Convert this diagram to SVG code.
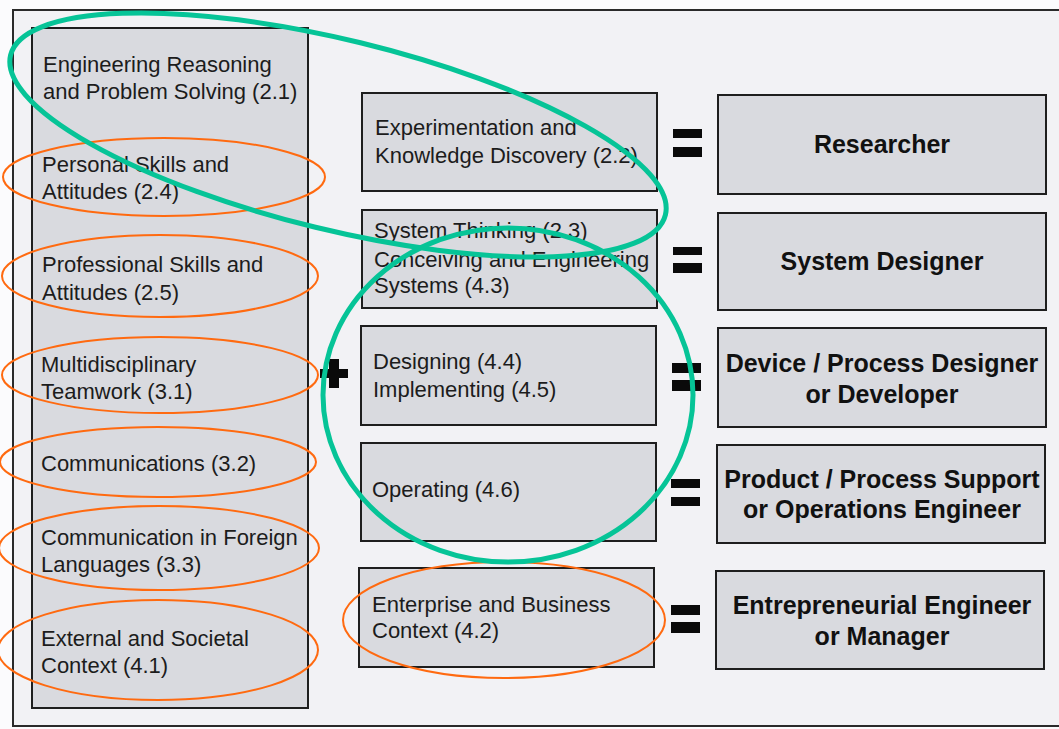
<svg xmlns="http://www.w3.org/2000/svg" width="1059" height="729" viewBox="0 0 1059 729">
<style>
.bg{fill:#fbfbfd}
.frame{fill:#f2f2f5;stroke:#2a2a2a;stroke-width:2}
.box{fill:#d9dadf;stroke:#1e1e1e;stroke-width:2}
.t{font-family:"Liberation Sans",Arial,sans-serif;font-size:22px;fill:#1c1c1c}
.b{font-family:"Liberation Sans",Arial,sans-serif;font-size:25px;font-weight:bold;fill:#111;text-anchor:middle}
.eq{fill:#0a0a0a}
.og{fill:none;stroke:#ff6a10;stroke-width:2}
.gr{fill:none;stroke:#06c497;stroke-width:5}
</style>
<rect class="bg" x="0" y="0" width="1059" height="729"/>
<rect class="frame" x="13" y="10" width="1060" height="716"/>

<g id="skills">
<rect class="box" x="32" y="28" width="276" height="680"/>
<text class="t" x="43" y="72">Engineering Reasoning</text>
<text class="t" x="43" y="99">and Problem Solving (2.1)</text>
<text class="t" x="42" y="172">Personal Skills and</text>
<text class="t" x="42" y="199">Attitudes (2.4)</text>
<text class="t" x="42" y="272">Professional Skills and</text>
<text class="t" x="42" y="300">Attitudes (2.5)</text>
<text class="t" x="41" y="372">Multidisciplinary</text>
<text class="t" x="41" y="399">Teamwork (3.1)</text>
<text class="t" x="41" y="471">Communications (3.2)</text>
<text class="t" x="41" y="545">Communication in Foreign</text>
<text class="t" x="41" y="572">Languages (3.3)</text>
<text class="t" x="41" y="646">External and Societal</text>
<text class="t" x="41" y="673">Context (4.1)</text>
</g>

<g id="experimentation">
<rect class="box" x="362" y="93" width="295" height="98"/>
<text class="t" x="375" y="135">Experimentation and</text>
<text class="t" x="375" y="163">Knowledge Discovery (2.2)</text>
</g>
<g id="system-thinking">
<rect class="box" x="362" y="210" width="295" height="98"/>
<text class="t" x="374" y="238">System Thinking (2.3)</text>
<text class="t" x="374" y="267">Conceiving and Engineering</text>
<text class="t" x="374" y="293">Systems (4.3)</text>
</g>
<g id="designing">
<rect class="box" x="361" y="326" width="295" height="99"/>
<text class="t" x="373" y="369">Designing (4.4)</text>
<text class="t" x="373" y="397">Implementing (4.5)</text>
</g>
<g id="operating">
<rect class="box" x="361" y="443" width="295" height="98"/>
<text class="t" x="372" y="497">Operating (4.6)</text>
</g>
<g id="enterprise">
<rect class="box" x="359" y="568" width="295" height="99"/>
<text class="t" x="372" y="612">Enterprise and Business</text>
<text class="t" x="372" y="638">Context (4.2)</text>
</g>

<g id="researcher">
<rect class="box" x="718" y="95" width="328" height="99"/>
<text class="b" x="882" y="153">Researcher</text>
</g>
<g id="system-designer">
<rect class="box" x="718" y="213" width="328" height="97"/>
<text class="b" x="882" y="270">System Designer</text>
</g>
<g id="device-designer">
<rect class="box" x="718" y="328" width="328" height="99"/>
<text class="b" x="882" y="372">Device / Process Designer</text>
<text class="b" x="882" y="403">or Developer</text>
</g>
<g id="support-engineer">
<rect class="box" x="717" y="445" width="328" height="98"/>
<text class="b" x="882" y="488">Product / Process Support</text>
<text class="b" x="882" y="518">or Operations Engineer</text>
</g>
<g id="entrepreneur">
<rect class="box" x="716" y="571" width="328" height="98"/>
<text class="b" x="882" y="614">Entrepreneurial Engineer</text>
<text class="b" x="882" y="645">or Manager</text>
</g>

<g id="operators">
<rect class="eq" x="673" y="129" width="29" height="9"/>
<rect class="eq" x="673" y="147" width="29" height="10"/>
<rect class="eq" x="673" y="247" width="29" height="8"/>
<rect class="eq" x="673" y="263" width="29" height="10"/>
<rect class="eq" x="672" y="363" width="29" height="10"/>
<rect class="eq" x="672" y="380" width="29" height="11"/>
<rect class="eq" x="671" y="479" width="29" height="9"/>
<rect class="eq" x="671" y="497" width="29" height="9"/>
<rect class="eq" x="671" y="605" width="29" height="10"/>
<rect class="eq" x="671" y="622" width="29" height="11"/>
<rect class="eq" x="320" y="369" width="28" height="9"/>
<rect class="eq" x="329" y="359" width="10" height="29"/>
</g>

<g id="annotations">
<ellipse class="og" cx="164" cy="177" rx="161" ry="39"/>
<ellipse class="og" cx="160" cy="276" rx="158" ry="41"/>
<ellipse class="og" cx="160" cy="375" rx="158" ry="38"/>
<ellipse class="og" cx="158" cy="462" rx="158" ry="35"/>
<ellipse class="og" cx="159" cy="548" rx="160" ry="42"/>
<ellipse class="og" cx="158" cy="650" rx="160" ry="50"/>
<ellipse class="og" cx="504" cy="620" rx="161" ry="58"/>
<ellipse class="gr" cx="338" cy="135" rx="337" ry="95" transform="rotate(13.7 338 135)"/>
<ellipse class="gr" cx="508" cy="395" rx="185" ry="167"/>
</g>
</svg>
